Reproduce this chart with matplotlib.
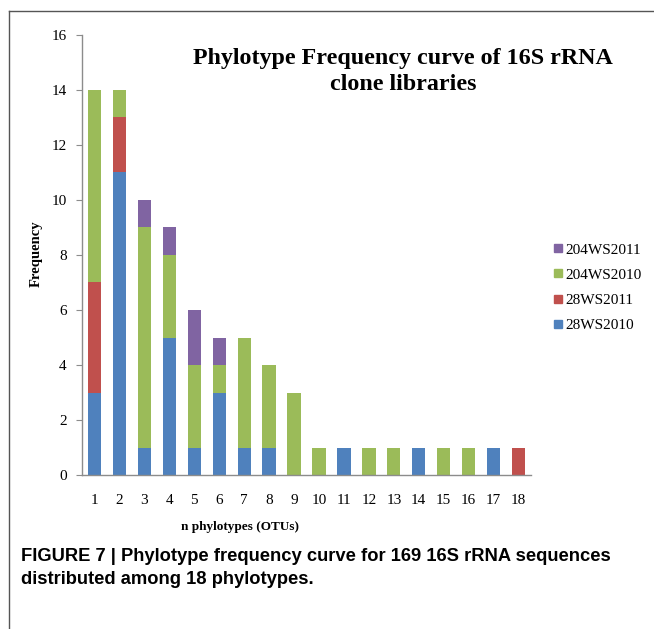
import matplotlib
matplotlib.use("Agg")
import matplotlib.pyplot as plt
import numpy as np
from matplotlib.lines import Line2D

# phylotype index
otus = list(range(1, 19))

# counts per library (stacked bottom -> top)
ws28_2010  = [3, 11, 1, 5, 1, 3, 1, 1, 0, 0, 1, 0, 0, 1, 0, 0, 1, 0]
ws28_2011  = [4, 2, 0, 0, 0, 0, 0, 0, 0, 0, 0, 0, 0, 0, 0, 0, 0, 1]
ws204_2010 = [7, 1, 8, 3, 3, 1, 4, 3, 3, 1, 0, 1, 1, 0, 1, 1, 0, 0]
ws204_2011 = [0, 0, 1, 1, 2, 1, 0, 0, 0, 0, 0, 0, 0, 0, 0, 0, 0, 0]

series = [
    ("28WS2010", ws28_2010, "#4F81BD"),
    ("28WS2011", ws28_2011, "#C0504D"),
    ("204WS2010", ws204_2010, "#9BBB59"),
    ("204WS2011", ws204_2011, "#8064A2"),
]

serif = ["Liberation Serif", "DejaVu Serif"]

fig = plt.figure(figsize=(6.54, 6.29), dpi=100)
ax = fig.add_axes([0.1254, 0.2448, 0.6866, 0.6996])

bottom = np.zeros(len(otus))
for name, vals, col in series:
    vals = np.array(vals)
    ax.bar(otus, vals, width=0.53, bottom=bottom, color=col, edgecolor="none")
    bottom += vals

ax.set_xlim(0.5, 18.5)
ax.set_ylim(0, 16)
ax.set_yticks(range(0, 17, 2))
ax.set_xticks(otus)
for s in ["top", "right"]:
    ax.spines[s].set_visible(False)
for s in ["left", "bottom"]:
    ax.spines[s].set_color("#8c8c8c")
    ax.spines[s].set_linewidth(1.0)
ax.tick_params(axis="y", length=4, color="#8c8c8c", pad=7, labelsize=11)
ax.tick_params(axis="x", length=0, pad=14, labelsize=11)
for lbl in ax.get_xticklabels() + ax.get_yticklabels():
    lbl.set_family(serif)

# title inside the plot area
fig.text(0.616, 0.887, "Phylotype Frequency curve of 16S rRNA\nclone libraries",
         ha="center", va="center", family=serif, fontweight="bold",
         fontsize=17.3, linespacing=1.32)

# axis labels
fig.text(0.056, 0.596, "Frequency", rotation=90, ha="center", va="center",
         family=serif, fontweight="bold", fontsize=10.5)
fig.text(0.367, 0.162, "n phylotypes (OTUs)", ha="center", va="center",
         family=serif, fontweight="bold", fontsize=9.5)

# legend (reverse order, like the reference)
handles = [Line2D([], [], marker="s", linestyle="none", markersize=6,
                  markerfacecolor=c, markeredgecolor=c) for _, _, c in series[::-1]]
labels = [n for n, _, _ in series[::-1]]
fig.legend(handles, labels, loc="center left", bbox_to_anchor=(0.823, 0.543),
           frameon=False, prop={"family": serif, "size": 11},
           handletextpad=0.1, labelspacing=0.75, handlelength=0.8)

# caption
fig.text(0.032, 0.097, "FIGURE 7 | Phylotype frequency curve for 169 16S rRNA sequences\n"
         "distributed among 18 phylotypes.", ha="left", va="center",
         family=["Liberation Sans", "DejaVu Sans"], fontweight="bold",
         fontsize=13.2, linespacing=1.42)

# figure frame lines (top and left)
fig.add_artist(Line2D([0.014, 1.0], [0.983, 0.983], color="#555555", lw=1.0))
fig.add_artist(Line2D([0.014, 0.014], [0.0, 0.983], color="#555555", lw=1.0))

fig.savefig("out.png", dpi=100)
